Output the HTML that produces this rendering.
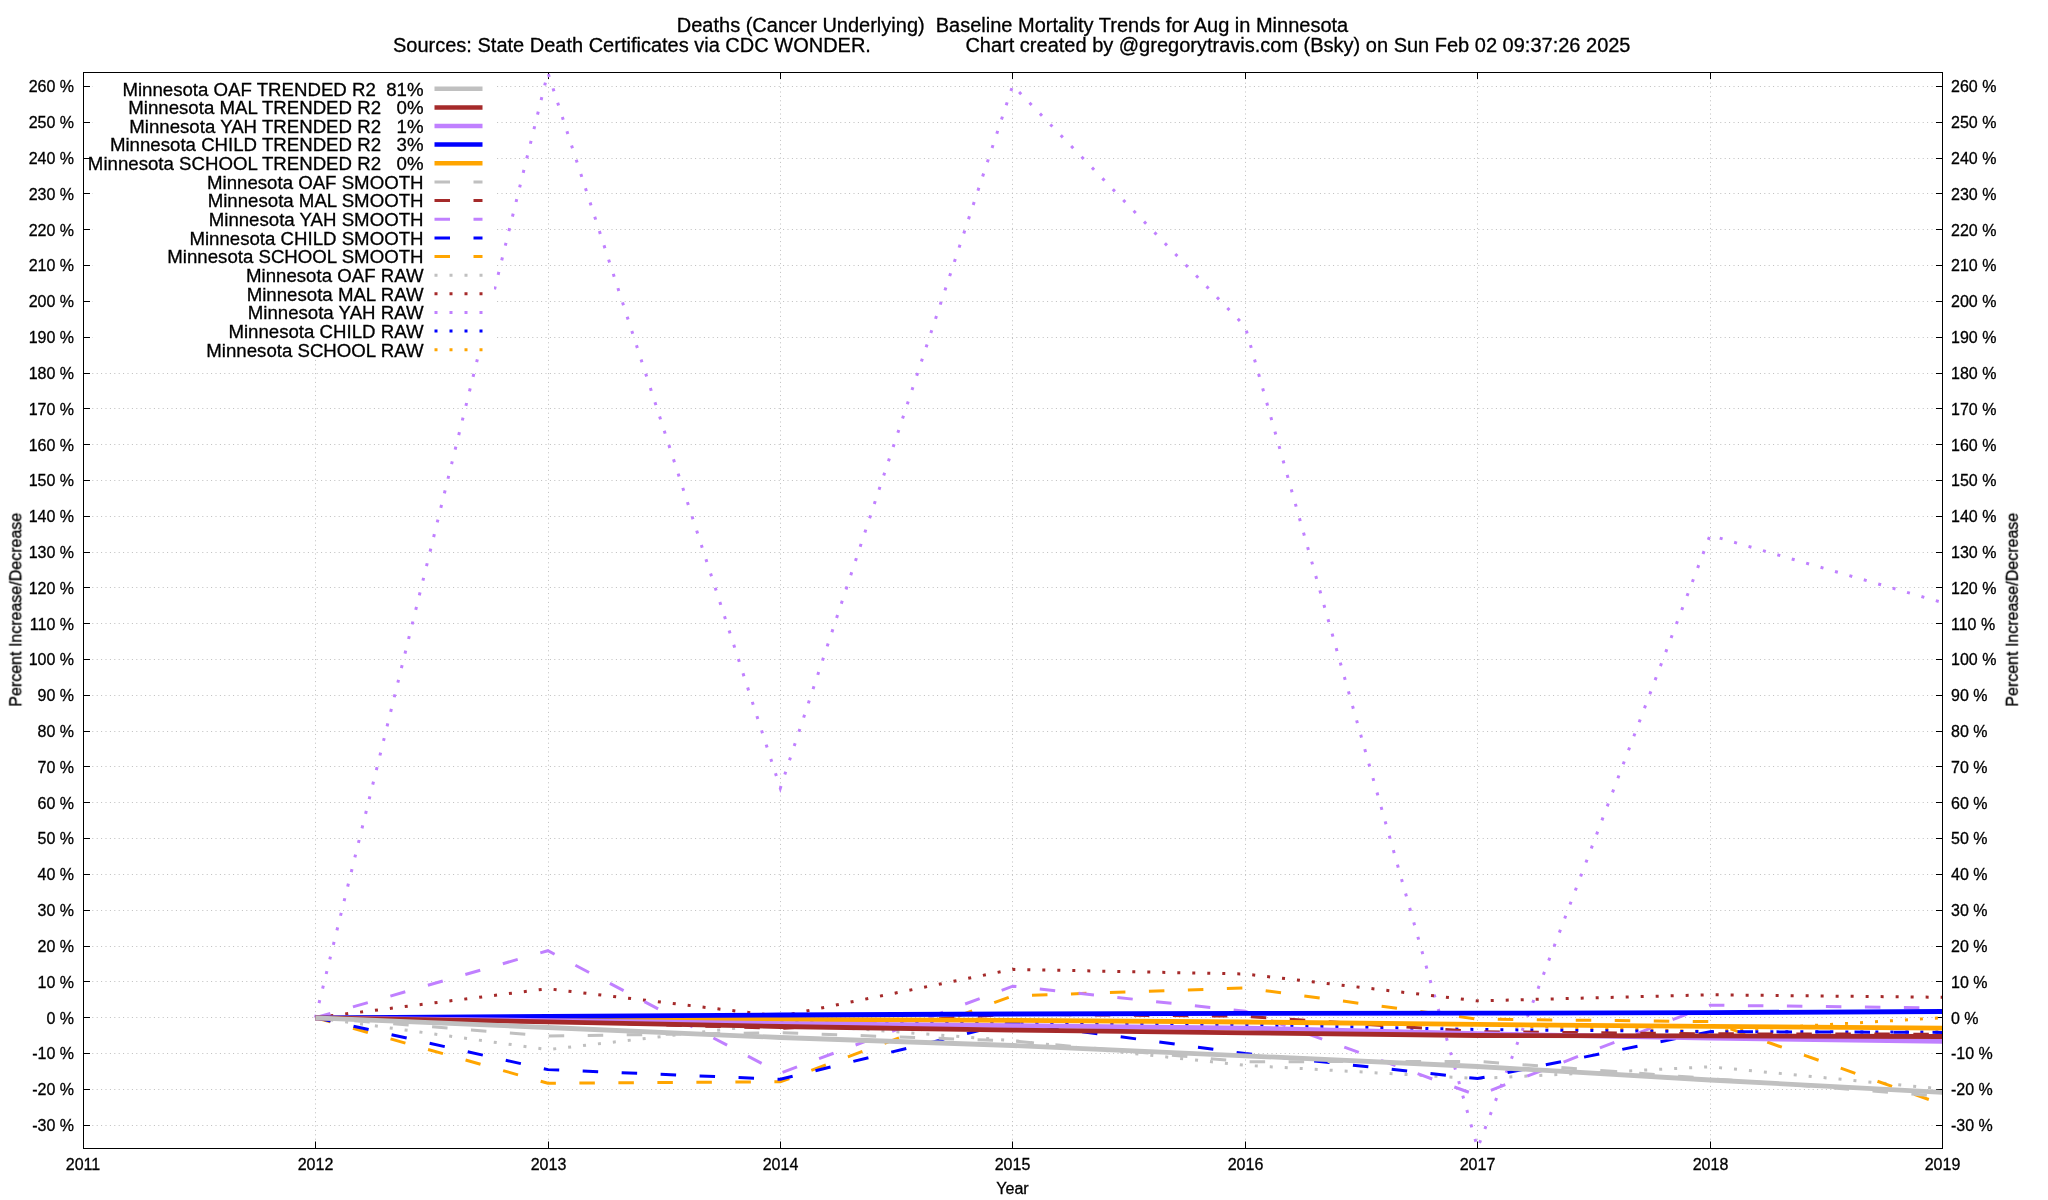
<!DOCTYPE html>
<html><head><meta charset="utf-8"><title>Baseline Mortality Trends</title>
<style>html,body{margin:0;padding:0;background:#fff;}body{width:2048px;height:1200px;overflow:hidden;}svg{display:block;}</style>
</head><body>
<svg width="2048" height="1200" viewBox="0 0 2048 1200">
<rect width="2048" height="1200" fill="#fff"/>
<path d="M83.5,1125.5H1942.5M83.5,1089.5H1942.5M83.5,1053.5H1942.5M83.5,1017.5H1942.5M83.5,981.5H1942.5M83.5,946.5H1942.5M83.5,910.5H1942.5M83.5,874.5H1942.5M83.5,838.5H1942.5M83.5,802.5H1942.5M83.5,766.5H1942.5M83.5,731.5H1942.5M83.5,695.5H1942.5M83.5,659.5H1942.5M83.5,623.5H1942.5M83.5,587.5H1942.5M83.5,552.5H1942.5M83.5,516.5H1942.5M83.5,480.5H1942.5M83.5,444.5H1942.5M83.5,408.5H1942.5M83.5,373.5H1942.5M83.5,337.5H1942.5M83.5,301.5H1942.5M83.5,265.5H1942.5M83.5,229.5H1942.5M83.5,193.5H1942.5M83.5,158.5H1942.5M83.5,122.5H1942.5M83.5,86.5H1942.5M315.5,1148.5V72.5M548.5,1148.5V72.5M780.5,1148.5V72.5M1012.5,1148.5V72.5M1245.5,1148.5V72.5M1477.5,1148.5V72.5M1710.5,1148.5V72.5" stroke="#bebebe" stroke-width="1" stroke-dasharray="1 3.4" fill="none"/>
<path d="M83.5,1125.5h6.5M1942.5,1125.5h-6.5M83.5,1089.5h6.5M1942.5,1089.5h-6.5M83.5,1053.5h6.5M1942.5,1053.5h-6.5M83.5,1017.5h6.5M1942.5,1017.5h-6.5M83.5,981.5h6.5M1942.5,981.5h-6.5M83.5,946.5h6.5M1942.5,946.5h-6.5M83.5,910.5h6.5M1942.5,910.5h-6.5M83.5,874.5h6.5M1942.5,874.5h-6.5M83.5,838.5h6.5M1942.5,838.5h-6.5M83.5,802.5h6.5M1942.5,802.5h-6.5M83.5,766.5h6.5M1942.5,766.5h-6.5M83.5,731.5h6.5M1942.5,731.5h-6.5M83.5,695.5h6.5M1942.5,695.5h-6.5M83.5,659.5h6.5M1942.5,659.5h-6.5M83.5,623.5h6.5M1942.5,623.5h-6.5M83.5,587.5h6.5M1942.5,587.5h-6.5M83.5,552.5h6.5M1942.5,552.5h-6.5M83.5,516.5h6.5M1942.5,516.5h-6.5M83.5,480.5h6.5M1942.5,480.5h-6.5M83.5,444.5h6.5M1942.5,444.5h-6.5M83.5,408.5h6.5M1942.5,408.5h-6.5M83.5,373.5h6.5M1942.5,373.5h-6.5M83.5,337.5h6.5M1942.5,337.5h-6.5M83.5,301.5h6.5M1942.5,301.5h-6.5M83.5,265.5h6.5M1942.5,265.5h-6.5M83.5,229.5h6.5M1942.5,229.5h-6.5M83.5,193.5h6.5M1942.5,193.5h-6.5M83.5,158.5h6.5M1942.5,158.5h-6.5M83.5,122.5h6.5M1942.5,122.5h-6.5M83.5,86.5h6.5M1942.5,86.5h-6.5M315.5,1148.5v-7M315.5,72.5v6.5M548.5,1148.5v-7M548.5,72.5v6.5M780.5,1148.5v-7M780.5,72.5v6.5M1012.5,1148.5v-7M1012.5,72.5v6.5M1245.5,1148.5v-7M1245.5,72.5v6.5M1477.5,1148.5v-7M1477.5,72.5v6.5M1710.5,1148.5v-7M1710.5,72.5v6.5" stroke="#000" stroke-width="1" fill="none"/>
<polyline points="315.44,1017.70 547.88,1021.28 780.31,1021.28 1012.75,1023.07 1245.19,1023.07 1477.62,1024.86 1710.06,1031.67 1942.50,1017.70" stroke="#ffa500" stroke-width="3.0" stroke-dasharray="3 12" fill="none" stroke-linejoin="miter"/>
<polyline points="315.44,1017.70 547.88,1019.49 780.31,1020.57 1012.75,1022.36 1245.19,1024.86 1477.62,1029.52 1710.06,1031.67 1942.50,1032.03" stroke="#0000ff" stroke-width="3.0" stroke-dasharray="3 12" fill="none" stroke-linejoin="miter"/>
<polyline points="315.44,1017.70 547.88,72.54 780.31,788.13 1012.75,85.44 1245.19,326.47 1477.62,1148.07 1710.06,535.27 1942.50,602.60" stroke="#c080ff" stroke-width="3.0" stroke-dasharray="3 12" fill="none" stroke-linejoin="miter"/>
<polyline points="315.44,1017.70 547.88,988.69 780.31,1016.27 1012.75,969.35 1245.19,974.01 1477.62,1000.87 1710.06,994.78 1942.50,997.29" stroke="#a52a2a" stroke-width="3.0" stroke-dasharray="3 12" fill="none" stroke-linejoin="miter"/>
<polyline points="315.44,1017.70 547.88,1049.58 780.31,1023.07 1012.75,1040.62 1245.19,1065.33 1477.62,1078.59 1710.06,1066.77 1942.50,1088.97" stroke="#c0c0c0" stroke-width="3.0" stroke-dasharray="3 12" fill="none" stroke-linejoin="miter"/>
<polyline points="315.44,1017.70 547.88,1083.24 780.31,1081.81 1012.75,995.85 1245.19,987.97 1477.62,1019.13 1710.06,1021.64 1942.50,1104.37" stroke="#ffa500" stroke-width="3.0" stroke-dasharray="15.5 23.5" fill="none" stroke-linejoin="miter"/>
<polyline points="315.44,1017.70 547.88,1069.63 780.31,1079.30 1012.75,1022.36 1245.19,1053.52 1477.62,1078.59 1710.06,1031.67 1942.50,1032.38" stroke="#0000ff" stroke-width="3.0" stroke-dasharray="15.5 23.5" fill="none" stroke-linejoin="miter"/>
<polyline points="315.44,1017.70 547.88,950.73 780.31,1073.21 1012.75,986.18 1245.19,1011.25 1477.62,1095.42 1710.06,1005.16 1942.50,1008.03" stroke="#c080ff" stroke-width="3.0" stroke-dasharray="15.5 23.5" fill="none" stroke-linejoin="miter"/>
<polyline points="315.44,1017.70 547.88,1021.28 780.31,1028.44 1012.75,1014.12 1245.19,1016.27 1477.62,1031.67 1710.06,1033.82 1942.50,1034.17" stroke="#a52a2a" stroke-width="3.0" stroke-dasharray="15.5 23.5" fill="none" stroke-linejoin="miter"/>
<polyline points="315.44,1017.70 547.88,1035.97 780.31,1032.74 1012.75,1040.98 1245.19,1061.75 1477.62,1061.39 1710.06,1078.59 1942.50,1096.49" stroke="#c0c0c0" stroke-width="3.0" stroke-dasharray="15.5 23.5" fill="none" stroke-linejoin="miter"/>
<polyline points="315.44,1017.90 547.88,1018.60 780.31,1019.40 1012.75,1020.40 1245.19,1022.00 1477.62,1024.40 1710.06,1026.40 1942.50,1028.20" stroke="#ffa500" stroke-width="4.8" fill="none" stroke-linejoin="round"/>
<polyline points="315.44,1017.90 547.88,1016.30 780.31,1015.00 1012.75,1014.00 1245.19,1013.40 1477.62,1013.20 1710.06,1012.60 1942.50,1011.50" stroke="#0000ff" stroke-width="4.8" fill="none" stroke-linejoin="round"/>
<polyline points="315.44,1017.90 547.88,1020.60 780.31,1023.60 1012.75,1025.60 1245.19,1028.10 1477.62,1033.70 1710.06,1038.10 1942.50,1041.25" stroke="#c080ff" stroke-width="4.8" fill="none" stroke-linejoin="round"/>
<polyline points="315.44,1017.90 547.88,1021.80 780.31,1026.50 1012.75,1030.10 1245.19,1032.90 1477.62,1035.50 1710.06,1035.90 1942.50,1036.50" stroke="#a52a2a" stroke-width="4.8" fill="none" stroke-linejoin="round"/>
<polyline points="315.44,1017.90 547.88,1027.50 780.31,1037.50 1012.75,1045.50 1245.19,1055.80 1477.62,1066.50 1710.06,1080.00 1942.50,1092.30" stroke="#c0c0c0" stroke-width="4.8" fill="none" stroke-linejoin="round"/>
<rect x="83.5" y="72.5" width="1859.0" height="1076.0" stroke="#000" stroke-width="1" fill="none"/>
<g font-family="Liberation Sans, sans-serif" font-size="16" fill="#000" stroke="#000" stroke-width="0.3" style="filter:grayscale(1)"><text x="74" y="1130.9" text-anchor="end">-30 %</text><text x="1951" y="1130.9">-30 %</text><text x="74" y="1095.1" text-anchor="end">-20 %</text><text x="1951" y="1095.1">-20 %</text><text x="74" y="1059.3" text-anchor="end">-10 %</text><text x="1951" y="1059.3">-10 %</text><text x="74" y="1023.5" text-anchor="end">0 %</text><text x="1951" y="1023.5">0 %</text><text x="74" y="987.7" text-anchor="end">10 %</text><text x="1951" y="987.7">10 %</text><text x="74" y="951.9" text-anchor="end">20 %</text><text x="1951" y="951.9">20 %</text><text x="74" y="916.1" text-anchor="end">30 %</text><text x="1951" y="916.1">30 %</text><text x="74" y="880.2" text-anchor="end">40 %</text><text x="1951" y="880.2">40 %</text><text x="74" y="844.4" text-anchor="end">50 %</text><text x="1951" y="844.4">50 %</text><text x="74" y="808.6" text-anchor="end">60 %</text><text x="1951" y="808.6">60 %</text><text x="74" y="772.8" text-anchor="end">70 %</text><text x="1951" y="772.8">70 %</text><text x="74" y="737.0" text-anchor="end">80 %</text><text x="1951" y="737.0">80 %</text><text x="74" y="701.2" text-anchor="end">90 %</text><text x="1951" y="701.2">90 %</text><text x="74" y="665.3" text-anchor="end">100 %</text><text x="1951" y="665.3">100 %</text><text x="74" y="629.5" text-anchor="end">110 %</text><text x="1951" y="629.5">110 %</text><text x="74" y="593.7" text-anchor="end">120 %</text><text x="1951" y="593.7">120 %</text><text x="74" y="557.9" text-anchor="end">130 %</text><text x="1951" y="557.9">130 %</text><text x="74" y="522.1" text-anchor="end">140 %</text><text x="1951" y="522.1">140 %</text><text x="74" y="486.3" text-anchor="end">150 %</text><text x="1951" y="486.3">150 %</text><text x="74" y="450.5" text-anchor="end">160 %</text><text x="1951" y="450.5">160 %</text><text x="74" y="414.6" text-anchor="end">170 %</text><text x="1951" y="414.6">170 %</text><text x="74" y="378.8" text-anchor="end">180 %</text><text x="1951" y="378.8">180 %</text><text x="74" y="343.0" text-anchor="end">190 %</text><text x="1951" y="343.0">190 %</text><text x="74" y="307.2" text-anchor="end">200 %</text><text x="1951" y="307.2">200 %</text><text x="74" y="271.4" text-anchor="end">210 %</text><text x="1951" y="271.4">210 %</text><text x="74" y="235.6" text-anchor="end">220 %</text><text x="1951" y="235.6">220 %</text><text x="74" y="199.8" text-anchor="end">230 %</text><text x="1951" y="199.8">230 %</text><text x="74" y="163.9" text-anchor="end">240 %</text><text x="1951" y="163.9">240 %</text><text x="74" y="128.1" text-anchor="end">250 %</text><text x="1951" y="128.1">250 %</text><text x="74" y="92.3" text-anchor="end">260 %</text><text x="1951" y="92.3">260 %</text><text x="83.0" y="1170" text-anchor="middle">2011</text><text x="315.5" y="1170" text-anchor="middle">2012</text><text x="548.5" y="1170" text-anchor="middle">2013</text><text x="780.5" y="1170" text-anchor="middle">2014</text><text x="1012.5" y="1170" text-anchor="middle">2015</text><text x="1245.5" y="1170" text-anchor="middle">2016</text><text x="1477.5" y="1170" text-anchor="middle">2017</text><text x="1710.5" y="1170" text-anchor="middle">2018</text><text x="1942.5" y="1170" text-anchor="middle">2019</text><text x="1012.5" y="1193.7" text-anchor="middle">Year</text><text transform="translate(21.3,609.7) rotate(-90)" text-anchor="middle">Percent Increase/Decrease</text><text transform="translate(2017.8,609.7) rotate(-90)" text-anchor="middle">Percent Increase/Decrease</text></g>
<g font-family="Liberation Sans, sans-serif" font-size="20" fill="#000" stroke="#000" stroke-width="0.3" style="filter:grayscale(1)"><text x="1012.5" y="31.7" text-anchor="middle" xml:space="preserve">Deaths (Cancer Underlying)  Baseline Mortality Trends for Aug in Minnesota</text><text x="393" y="52">Sources: State Death Certificates via CDC WONDER.</text><text x="1630.5" y="52" text-anchor="end">Chart created by @gregorytravis.com (Bsky) on Sun Feb 02 09:37:26 2025</text></g>
<rect x="92.5" y="73" width="401.5" height="284.5" fill="#fff"/>
<g font-family="Liberation Sans, sans-serif" font-size="18.65" fill="#000" stroke="#000" stroke-width="0.3" style="filter:grayscale(1)"><text x="423.5" y="95.5" text-anchor="end" xml:space="preserve">Minnesota OAF TRENDED R2  81%</text><text x="423.5" y="114.2" text-anchor="end" xml:space="preserve">Minnesota MAL TRENDED R2   0%</text><text x="423.5" y="132.8" text-anchor="end" xml:space="preserve">Minnesota YAH TRENDED R2   1%</text><text x="423.5" y="151.4" text-anchor="end" xml:space="preserve">Minnesota CHILD TRENDED R2   3%</text><text x="423.5" y="170.1" text-anchor="end" xml:space="preserve">Minnesota SCHOOL TRENDED R2   0%</text><text x="423.5" y="188.8" text-anchor="end" xml:space="preserve">Minnesota OAF SMOOTH</text><text x="423.5" y="207.4" text-anchor="end" xml:space="preserve">Minnesota MAL SMOOTH</text><text x="423.5" y="226.0" text-anchor="end" xml:space="preserve">Minnesota YAH SMOOTH</text><text x="423.5" y="244.7" text-anchor="end" xml:space="preserve">Minnesota CHILD SMOOTH</text><text x="423.5" y="263.4" text-anchor="end" xml:space="preserve">Minnesota SCHOOL SMOOTH</text><text x="423.5" y="282.0" text-anchor="end" xml:space="preserve">Minnesota OAF RAW</text><text x="423.5" y="300.6" text-anchor="end" xml:space="preserve">Minnesota MAL RAW</text><text x="423.5" y="319.3" text-anchor="end" xml:space="preserve">Minnesota YAH RAW</text><text x="423.5" y="337.9" text-anchor="end" xml:space="preserve">Minnesota CHILD RAW</text><text x="423.5" y="356.6" text-anchor="end" xml:space="preserve">Minnesota SCHOOL RAW</text></g>
<g><path d="M434.5,88.7H482.5" stroke="#c0c0c0" stroke-width="4.5"/><path d="M434.5,107.4H482.5" stroke="#a52a2a" stroke-width="4.5"/><path d="M434.5,126.0H482.5" stroke="#c080ff" stroke-width="4.5"/><path d="M434.5,144.6H482.5" stroke="#0000ff" stroke-width="4.5"/><path d="M434.5,163.3H482.5" stroke="#ffa500" stroke-width="4.5"/><path d="M434.5,181.9H482.5" stroke="#c0c0c0" stroke-width="3.0" stroke-dasharray="15.5 23.5"/><path d="M434.5,200.6H482.5" stroke="#a52a2a" stroke-width="3.0" stroke-dasharray="15.5 23.5"/><path d="M434.5,219.2H482.5" stroke="#c080ff" stroke-width="3.0" stroke-dasharray="15.5 23.5"/><path d="M434.5,237.9H482.5" stroke="#0000ff" stroke-width="3.0" stroke-dasharray="15.5 23.5"/><path d="M434.5,256.6H482.5" stroke="#ffa500" stroke-width="3.0" stroke-dasharray="15.5 23.5"/><path d="M434.5,275.2H482.5" stroke="#c0c0c0" stroke-width="3.0" stroke-dasharray="3 12"/><path d="M434.5,293.8H482.5" stroke="#a52a2a" stroke-width="3.0" stroke-dasharray="3 12"/><path d="M434.5,312.5H482.5" stroke="#c080ff" stroke-width="3.0" stroke-dasharray="3 12"/><path d="M434.5,331.1H482.5" stroke="#0000ff" stroke-width="3.0" stroke-dasharray="3 12"/><path d="M434.5,349.8H482.5" stroke="#ffa500" stroke-width="3.0" stroke-dasharray="3 12"/></g>
</svg>
</body></html>
